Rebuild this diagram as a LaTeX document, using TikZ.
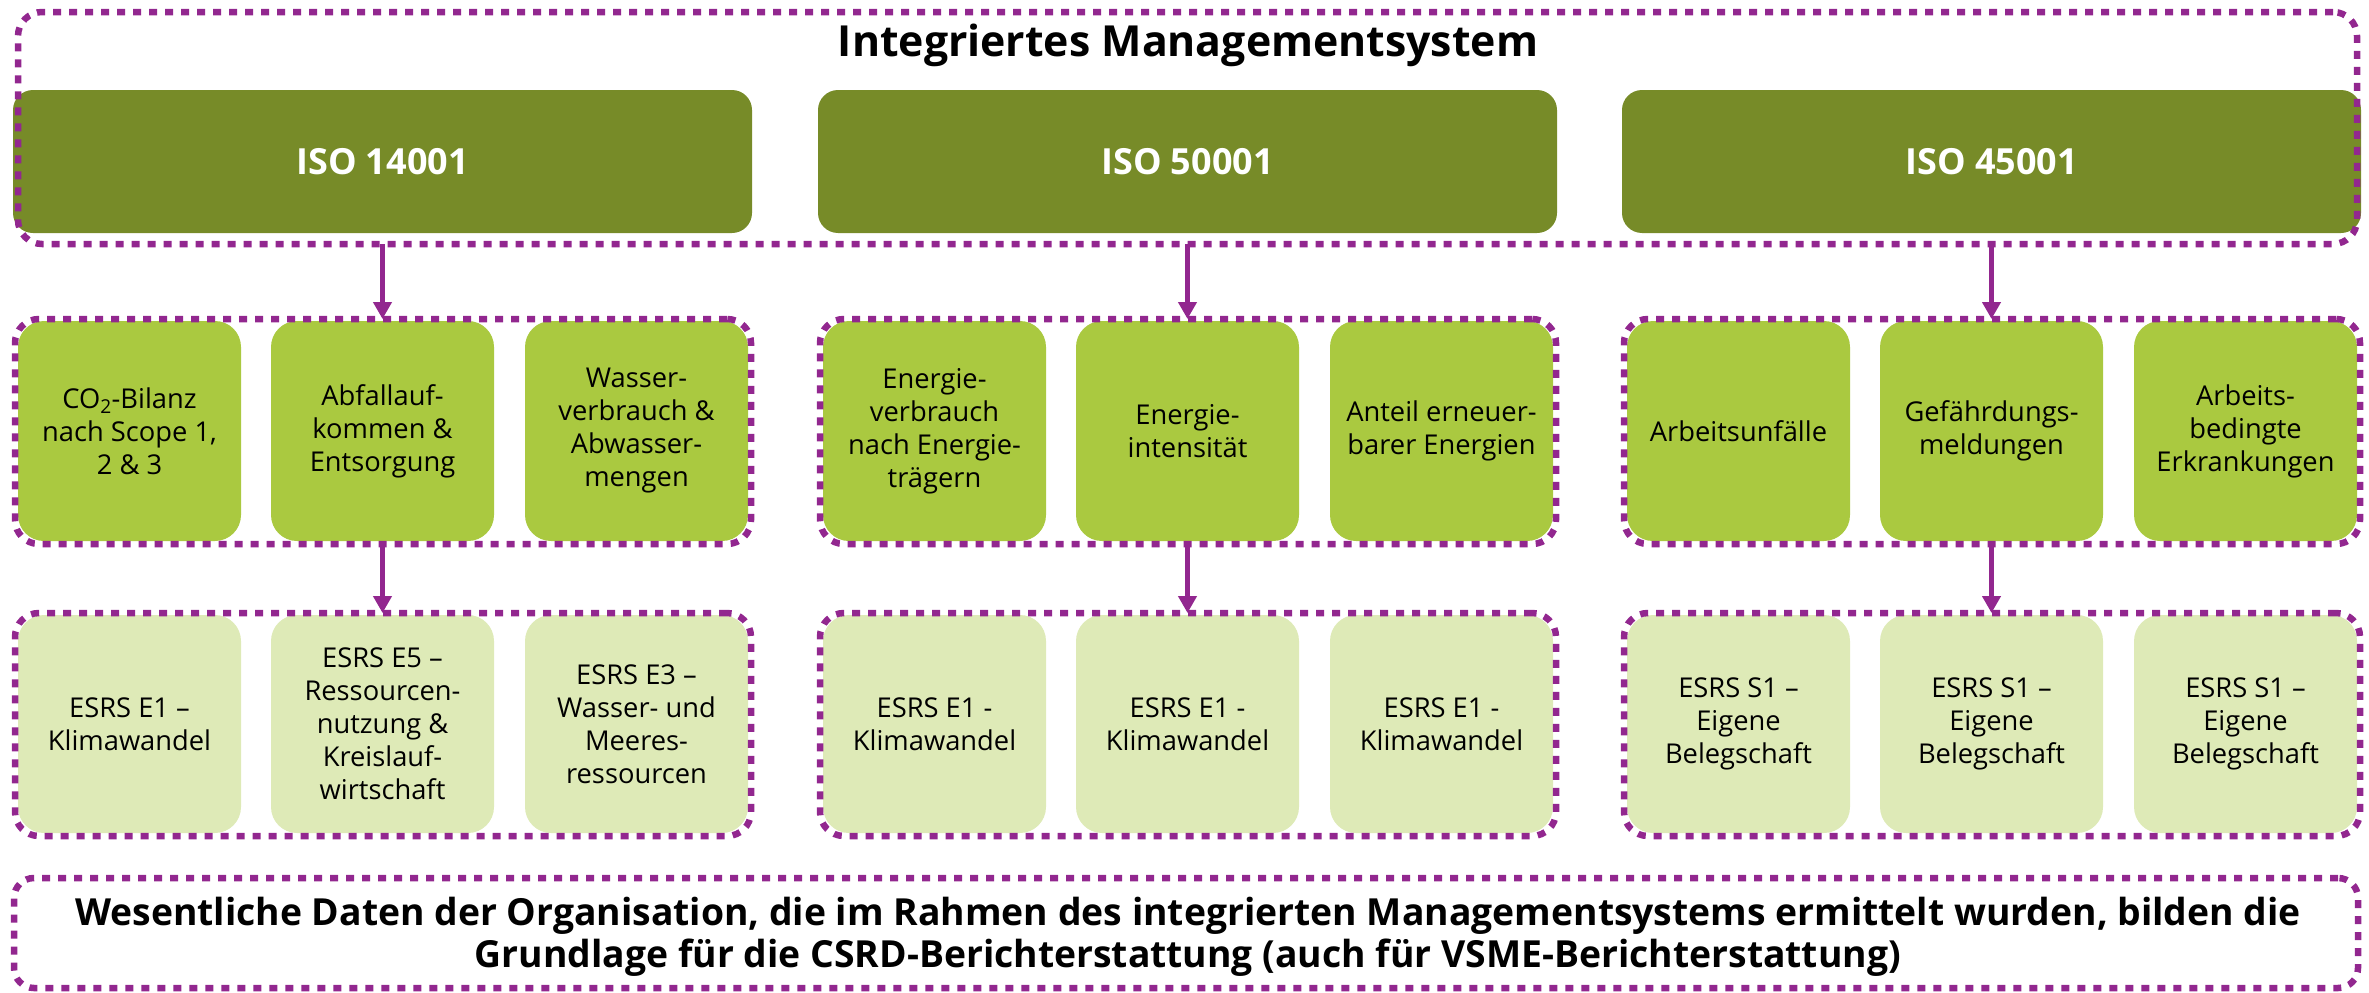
\documentclass[tikz,border=0pt]{standalone}
\usepackage{fontspec}
\setmainfont{Open Sans}
\usetikzlibrary{arrows.meta}
\definecolor{vio}{RGB}{146,39,143}
\definecolor{olivegreen}{RGB}{119,139,40}
\definecolor{limegreen}{RGB}{170,201,64}
\definecolor{palegreen}{RGB}{222,234,183}
\begin{document}
\begin{tikzpicture}[x=1pt,y=-1pt,
  isobox/.style={fill=olivegreen, rounded corners=20pt, text=white, font=\fontsize{36}{44}\selectfont\bfseries, anchor=north west, inner sep=0pt, outer sep=0pt, minimum width=739pt, minimum height=143pt},
  kpibox/.style={fill=limegreen, rounded corners=26pt, anchor=north west, align=center, font=\fontsize{27.3}{33}\selectfont, inner sep=0pt, outer sep=0pt, minimum width=223pt, minimum height=220pt},
  esrsbox/.style={kpibox, fill=palegreen, minimum height=218pt},
  dotbox/.style={draw=vio, line width=6.5pt, dash pattern=on 8pt off 8pt, rounded corners=24pt, anchor=north west, inner sep=0pt, outer sep=0pt},
  grpbox/.style={dotbox, minimum width=736pt},
  conn/.style={draw=vio, line width=5.5pt, -{Triangle[width=18pt,length=17pt]}},
  titletext/.style={font=\fontsize{42.8}{50}\selectfont\bfseries, inner sep=0pt},
]
\useasboundingbox (0,0) rectangle (2369,993);

% ISO boxes
\node[isobox] (iso1) at (13,90) {ISO 14001};
\node[isobox] (iso2) at (818,90) {ISO 50001};
\node[isobox] (iso3) at (1622,90) {ISO 45001};
\node[dotbox, minimum width=2339pt, minimum height=232pt] (ims) at (18,12) {};
\node[titletext] (title) at (1188,45) {Integriertes Managementsystem};

% Row 1 (KPIs)
\node[kpibox] (a1) at (18,321) {CO\textsubscript{2}-Bilanz\\nach Scope 1,\\2 \& 3};
\node[kpibox] (a2) at (271,321) {Abfallauf-\\kommen \&\\Entsorgung};
\node[kpibox] (a3) at (525,321) {Wasser-\\verbrauch \&\\Abwasser-\\mengen};
\node[kpibox] (b1) at (823,321) {Energie-\\verbrauch\\nach Energie-\\trägern};
\node[kpibox] (b2) at (1076,321) {Energie-\\intensität};
\node[kpibox] (b3) at (1330,321) {Anteil erneuer-\\barer Energien};
\node[kpibox] (c1) at (1627,321) {Arbeitsunfälle};
\node[kpibox] (c2) at (1880,321) {Gefährdungs-\\meldungen};
\node[kpibox] (c3) at (2134,321) {Arbeits-\\bedingte\\Erkrankungen};
\node[grpbox, minimum height=225pt] (ga) at (15,319) {};
\node[grpbox, minimum height=225pt] (gb) at (820,319) {};
\node[grpbox, minimum height=225pt] (gc) at (1624,319) {};

% Row 2 (ESRS)
\node[esrsbox] (d1) at (18,615) {ESRS E1 --\\Klimawandel};
\node[esrsbox] (d2) at (271,615) {ESRS E5 --\\Ressourcen-\\nutzung \&\\Kreislauf-\\wirtschaft};
\node[esrsbox] (d3) at (525,615) {ESRS E3 --\\Wasser- und\\Meeres-\\ressourcen};
\node[esrsbox] (e1) at (823,615) {ESRS E1 -\\Klimawandel};
\node[esrsbox] (e2) at (1076,615) {ESRS E1 -\\Klimawandel};
\node[esrsbox] (e3) at (1330,615) {ESRS E1 -\\Klimawandel};
\node[esrsbox] (f1) at (1627,615) {ESRS S1 --\\Eigene\\Belegschaft};
\node[esrsbox] (f2) at (1880,615) {ESRS S1 --\\Eigene\\Belegschaft};
\node[esrsbox] (f3) at (2134,615) {ESRS S1 --\\Eigene\\Belegschaft};
\node[grpbox, minimum height=223pt] (gd) at (15,613) {};
\node[grpbox, minimum height=223pt] (ge) at (820,613) {};
\node[grpbox, minimum height=223pt] (gf) at (1624,613) {};

% Bottom box
\node[dotbox, rounded corners=20pt, minimum width=2344pt, minimum height=110pt] (base) at (14,878) {};
\node[align=center, inner sep=0pt, font=\fontsize{37.3}{42}\selectfont\bfseries] (basetext) at (1188,937) {Wesentliche Daten der Organisation, die im Rahmen des integrierten Managementsystems ermittelt wurden, bilden die\\Grundlage für die CSRD-Berichterstattung (auch für VSME-Berichterstattung)};

% Connectors
\draw[conn] (ims.south -| a2.north) -- (ga.north -| a2.north);
\draw[conn] (ims.south -| b2.north) -- (gb.north -| b2.north);
\draw[conn] (ims.south -| c2.north) -- (gc.north -| c2.north);
\draw[conn] (ga.south -| a2.north) -- (gd.north -| a2.north);
\draw[conn] (gb.south -| b2.north) -- (ge.north -| b2.north);
\draw[conn] (gc.south -| c2.north) -- (gf.north -| c2.north);
\end{tikzpicture}
\end{document}
